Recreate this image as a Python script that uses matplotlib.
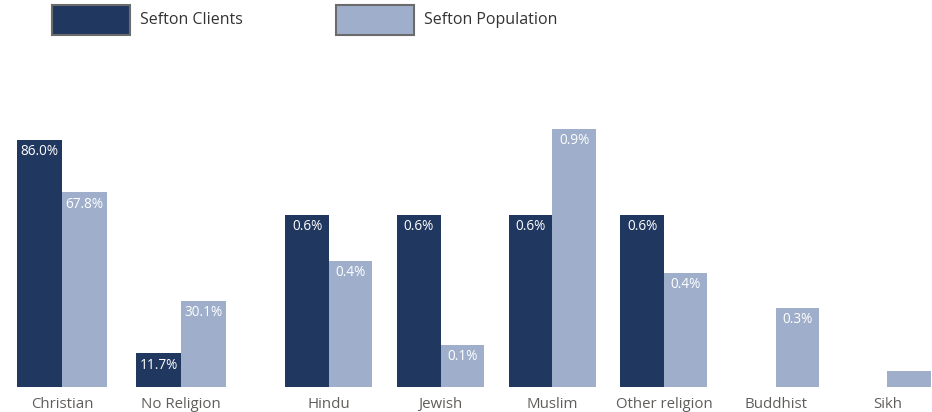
import matplotlib.pyplot as plt
from matplotlib.patches import Rectangle

# ---- Data ----
major_cats = ['Christian', 'No Religion']
major_clients = [86.0, 11.7]
major_population = [67.8, 30.1]

minor_cats = ['Hindu', 'Jewish', 'Muslim', 'Other religion', 'Buddhist', 'Sikh']
minor_clients = [0.6, 0.6, 0.6, 0.6, 0.0, 0.0]
minor_population = [0.44, 0.146, 0.9, 0.397, 0.275, 0.056]

dark = '#203760'
light = '#9FAFCB'
tick_color = '#605E5C'

plt.rcParams['font.family'] = ['Open Sans', 'DejaVu Sans']

fig = plt.figure(figsize=(9.32, 4.12), dpi=100)
ax1 = fig.add_axes([0.0027, 0.0607, 0.2554, 0.6966])
ax2 = fig.add_axes([0.2929, 0.0607, 0.7071, 0.6966])


def draw(ax, cats, clients, population, width, ymax, min_label):
    x = list(range(len(cats)))
    b1 = ax.bar([i - width / 2 for i in x], clients, width, color=dark)
    b2 = ax.bar([i + width / 2 for i in x], population, width, color=light)
    for bars in (b1, b2):
        for bar in bars:
            h = bar.get_height()
            if h <= min_label:
                continue
            ax.annotate(f'{h:.1f}%', (bar.get_x() + bar.get_width() / 2, h),
                        xytext=(0, -3), textcoords='offset points',
                        ha='center', va='top', color='white', fontsize=9.8)
    ax.set_ylim(0, ymax)
    ax.set_xticks(x)
    ax.set_xticklabels(cats, color=tick_color, fontsize=10.8, va='baseline')
    ax.tick_params(axis='x', length=0, pad=15)
    ax.set_yticks([])
    for s in ax.spines.values():
        s.set_visible(False)


draw(ax1, major_cats, major_clients, major_population, 0.378, 100, 5)
ax1.set_xlim(-0.5, 1.5)
draw(ax2, minor_cats, minor_clients, minor_population, 0.39, 1.0, 0.1)
ax2.set_xlim(-0.5, 5.4)

# ---- Legend ----
for x0, color, label in [(52, dark, 'Sefton Clients'), (336, light, 'Sefton Population')]:
    fig.patches.append(Rectangle((x0 / 932, 1 - 35 / 412), 78 / 932, 30 / 412,
                                 transform=fig.transFigure, facecolor=color,
                                 edgecolor='#6b6b6b', linewidth=1.5))
    fig.text((x0 + 88) / 932, 1 - 20 / 412, label, va='center', ha='left',
             color='#333333', fontsize=11.5)

plt.savefig('out.png')
